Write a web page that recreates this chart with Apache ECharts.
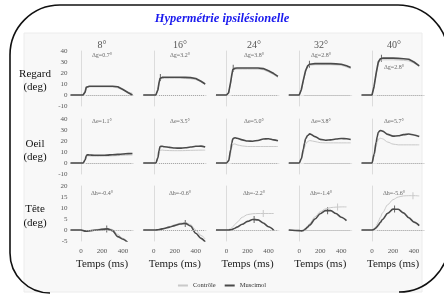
<!DOCTYPE html>
<html>
<head>
<meta charset="utf-8">
<script src="https://cdn.jsdelivr.net/npm/echarts@6/dist/echarts.min.js"></script>
<style>
  html, body { margin: 0; padding: 0; background: #fff; }
  #chart { width: 444px; height: 303px; }
</style>
</head>
<body>
<div id="chart"></div>
<script>
// ---- données ----
const temps = [-100, 0, 20, 40, 50, 60, 80, 100, 150, 200, 250, 300, 350, 400, 450, 490];
const cibles = ["8°", "16°", "24°", "32°", "40°"];
const lignes = [["Regard", "(deg)"], ["Oeil", "(deg)"], ["Tête", "(deg)"]];
const deltaRegard = ["Δg=0.7°", "Δg=3.2°", "Δg=3.8°", "Δg=2.8°", "Δg=2.8°"];
const deltaOeil = ["Δe=1.1°", "Δe=3.5°", "Δe=5.0°", "Δe=3.8°", "Δe=5.7°"];
const deltaTete = ["Δh=-0.4°", "Δh=-0.6°", "Δh=-2.2°", "Δh=-1.4°", "Δh=-5.6°"];
const ticksTemps = [0, 200, 400];

const regardMuscimol = [
  [0, 0, 0, 3, 7, 8, 8, 8, 8, 8, 8, 8, 7.5, 5, 2, 0],
  [0, 0, 0, 5, 11, 15, 16, 16.2, 16.2, 16.2, 16.2, 16, 15.8, 15, 12.5, 10],
  [0, 0, 2, 12, 18, 23, 24.3, 24.5, 24.5, 24.5, 24.5, 24.5, 24, 22, 19.5, 17],
  [0, 0, 5, 14, 18, 22, 26.5, 28, 28.5, 28.5, 28.5, 28.5, 28.3, 28, 26.5, 25],
  [0, 0, 8, 20, 25, 30, 33, 33.5, 33.5, 33.5, 33.3, 33, 32.5, 30, 26.5, null]
];
const regardControle = [
  [0, 0, 0, 2.5, 6.5, 7.3, 7.4, 7.4, 7.4, 7.4, 7.4, 7.3, 6.5, 4.5, 2.5, 1.5],
  [0, 0, 0, 4.5, 10, 14, 15, 15.2, 15.2, 15.2, 15.2, 15, 14.8, 14, 12, 9.5],
  [0, 0, 1.5, 11, 17, 22, 23.3, 23.5, 23.5, 23.5, 23.5, 23.5, 23, 21, 18.5, 16],
  [0, 0, 4, 13, 17, 21, 25.5, 27, 27.5, 27.5, 27.5, 27.5, 27.3, 27, 25.5, 24],
  [0, 0, 7, 19, 24, 28.5, 31.5, 32, 32, 32, 31.8, 31.5, 31, 29, 26, null]
];
const oeilMuscimol = [
  [0, 0, 0, 3, 6.5, 7.5, 7.3, 7.2, 7, 7, 7.2, 7.5, 7.8, 8.2, 8.5, 8.6],
  [0, 0, 0, 5, 11, 15, 15.2, 14.8, 14.2, 13.6, 13.5, 13.8, 14.5, 15.2, 15.3, 14.5],
  [0, 0, 2, 12, 18, 22, 23, 22.5, 21, 20, 19.8, 20.5, 21.8, 22, 21, 20.2],
  [0, 0, 4, 13, 18, 22, 25, 26.5, 24, 21.5, 20.7, 21, 21.8, 22.3, 22, 21.4],
  [0, 0, 8, 19, 24, 28, 29.6, 29, 26, 24.4, 24.8, 25.8, 26.3, 25.5, 24, null]
];
const oeilControle = [
  [0, 0, 0, 2.5, 5.5, 6.5, 6.4, 6.2, 6.1, 6.2, 6.3, 6.5, 6.7, 7, 7.2, 7.3],
  [0, 0, 0, 4, 9, 11.5, 11.8, 11.5, 11.3, 11.2, 11.2, 11.3, 11.5, 11.6, 11.7, 11.7],
  [0, 0, 1.5, 9, 14, 17, 17.4, 16.5, 15.5, 15, 15, 15, 15, 15, 15, 15],
  [0, 0, 3, 10, 14, 17, 19.5, 20.4, 19.5, 18.5, 18.3, 18.3, 18.3, 18.3, 18.3, 18.3],
  [0, 0, 6, 15, 19, 21.5, 22.5, 22, 19, 17.2, 16.5, 16.5, 16.5, 16.5, 16.5, null]
];
const teteMuscimol = [
  [0, 0, -0.3, -0.5, -0.5, -0.5, -0.4, -0.3, 0, 0.3, 0.5, -0.3, -3, -4.2, -6, null],
  [0, 0, 0, 0.1, 0.2, 0.3, 0.5, 0.7, 1.3, 2, 2.7, 3, 1.8, -1.5, -3.8, -5.4],
  [0, 0, 0, 0.1, 0.2, 0.4, 0.8, 1.3, 2.6, 3.9, 4.8, 4.6, 3.2, 1.5, -0.1, null],
  [0, -0.3, -0.4, -0.2, 0.1, 0.5, 1.3, 2.3, 5, 7.4, 8.8, 8.8, 7.5, 5.8, 4.3, null],
  [0, 0, 0.3, 1, 1.6, 2.2, 3.5, 4.8, 7.6, 9.5, 9.4, 7.8, 5.6, 3.6, 2, null]
];
const teteControle = [
  [0, 0, -0.2, -0.3, -0.3, -0.3, -0.2, -0.1, 0.2, 0.6, 0.8, 0.2, -2, -3.8, -5.5, null],
  [0, 0, 0, 0.1, 0.2, 0.4, 0.6, 0.9, 1.6, 2.4, 3.1, 3.4, 2.5, 0, -2.5, -4],
  [0, 0, 0.2, 0.6, 1, 1.5, 2.5, 3.5, 5.8, 7, 7.4, 7.5, 7.5, 7.5, 7.5, null],
  [0, -0.2, -0.2, 0, 0.3, 0.8, 1.8, 3, 6, 8.3, 9.6, 10.2, 10.4, 10.5, 10.5, null],
  [0, 0, 0.5, 1.8, 2.8, 3.8, 5.8, 7.8, 11.5, 13.8, 15, 15.5, 15.6, 15.6, 15.5, null]
];
// repères verticaux : [ligne, colonne, temps, valeur]
const marquesMuscimol = [
  [0, 1, 63, 16], [0, 2, 64, 24.3], [0, 3, 97, 28], [0, 4, 90, 33.5],
  [2, 0, 245, 0.5], [2, 1, 300, 3], [2, 2, 263, 4.8], [2, 3, 270, 8.8], [2, 4, 215, 9.6]
];
const marquesControle = [[2, 2, 350, 7.5], [2, 3, 365, 10.4], [2, 4, 390, 15.6]];

// ---- mise en page ----
const serif = "'Liberation Serif', 'DejaVu Serif', serif";
const gridLeft0 = 70.5, colStep = 72.75, gridW = 63, gridH = 55;
const rowTops = [51, 119, 186];
const rowRange = [[-10, 40, 10], [-10, 40, 10], [-5, 20, 5]];
const labelX = [102, 180, 254, 321, 394];
const donnees = [
  [regardControle, regardMuscimol],
  [oeilControle, oeilMuscimol],
  [teteControle, teteMuscimol]
];

const grids = [], xAxes = [], yAxes = [], series = [];
const pts = (arr) => temps.map((t, i) => [t, arr[i]]);

for (let r = 0; r < 3; r++) {
  for (let c = 0; c < 5; c++) {
    const idx = grids.length;
    grids.push({ left: gridLeft0 + colStep * c, top: rowTops[r], width: gridW, height: gridH });
    xAxes.push({
      gridIndex: idx, type: "value", min: -100, max: 500, interval: 100,
      axisLine: { show: true, lineStyle: { color: "#e2e2e2", type: "dotted" } },
      axisTick: { show: false }, splitLine: { show: false },
      axisLabel: {
        show: r === 2, margin: 7, fontSize: 7, color: "#555", fontFamily: serif,
        formatter: (v) => (ticksTemps.includes(v) ? String(v) : "")
      },
      name: r === 2 ? "Temps (ms)" : "", nameLocation: "middle", nameGap: 18,
      nameTextStyle: { fontSize: 11, color: "#222", fontFamily: serif }
    });
    yAxes.push({
      gridIndex: idx, type: "value", min: rowRange[r][0], max: rowRange[r][1], interval: rowRange[r][2],
      axisLine: { show: true, lineStyle: { color: "#dcdcdc" } },
      axisTick: { show: false }, splitLine: { show: false },
      axisLabel: { show: c === 0, margin: 3, fontSize: 7, color: "#555", fontFamily: serif }
    });
    const smooth = r === 0 ? false : 0.3;
    series.push({
      name: "Contrôle", type: "line", xAxisIndex: idx, yAxisIndex: idx,
      data: pts(donnees[r][0][c]), showSymbol: false, smooth: smooth, smoothMonotone: "x",
      lineStyle: { color: "#c9c9c9", width: 1 }, itemStyle: { color: "#c9c9c9" },
      animation: false, silent: true
    });
    series.push({
      name: "Muscimol", type: "line", xAxisIndex: idx, yAxisIndex: idx,
      data: pts(donnees[r][1][c]), showSymbol: false, smooth: smooth, smoothMonotone: "x",
      lineStyle: { color: "#4a4a4a", width: 1.6 }, itemStyle: { color: "#4a4a4a" },
      animation: false, silent: true,
      markLine: {
        silent: true, symbol: ["none", "none"], label: { show: false },
        lineStyle: { color: "#a8a8a8", type: "dotted", width: 1 },
        data: [[{ coord: [50, 0] }, { coord: [490, 0] }]]
      }
    });
  }
}

function marques(liste, couleur) {
  liste.forEach(([r, c, t, v]) => {
    const idx = r * 5 + c;
    series.push({
      name: "repère", type: "scatter", xAxisIndex: idx, yAxisIndex: idx,
      data: [[t, v]], symbol: "rect", symbolSize: [1, 7],
      itemStyle: { color: couleur }, silent: true, animation: false
    });
  });
}
marques(marquesControle, "#bdbdbd");
marques(marquesMuscimol, "#444");

const txt = (x, y, text, size, color, extra) => ({
  type: "text", x: x, y: y, silent: true,
  style: Object.assign({
    text: text, fill: color, font: size + "px " + serif,
    align: "center", textAlign: "center", verticalAlign: "middle", textVerticalAlign: "middle"
  }, extra || {})
});

const cadre = { stroke: "#111", lineWidth: 1.6, fill: "none" };
const courbe = (x1, y1, c1x, c1y, c2x, c2y, x2, y2) => ({
  type: "bezierCurve", z: 10, silent: true,
  shape: { x1: x1, y1: y1, cpx1: c1x, cpy1: c1y, cpx2: c2x, cpy2: c2y, x2: x2, y2: y2 },
  style: cadre
});
const segment = (x1, y1, x2, y2) => ({
  type: "line", z: 10, silent: true, shape: { x1: x1, y1: y1, x2: x2, y2: y2 }, style: cadre
});

const graphics = [
  { type: "rect", z: -10, silent: true, shape: { x: 24, y: 33, width: 398, height: 259 },
    style: { fill: "#f8f8f8", stroke: "#ececec", lineWidth: 1 } },
  courbe(50, 293, 27.9, 293, 10, 275.1, 10, 253),
  segment(10, 253, 10, 55),
  courbe(10, 55, 10, 27.4, 32.4, 5, 60, 5),
  segment(60, 5, 398, 5),
  courbe(398, 5, 425.6, 5, 448, 27.4, 448, 55),
  courbe(449, 242, 449, 269.6, 426.6, 292, 399, 292),
  txt(222, 19, "Hypermétrie ipsilésionelle", 12.5, "#1a1aee",
      { font: "italic bold 12.5px " + serif })
];
const rowLabelY = [[74, 87], [144, 157], [209, 223]];
for (let r = 0; r < 3; r++) {
  graphics.push(txt(35, rowLabelY[r][0], lignes[r][0], 11, "#111"));
  graphics.push(txt(35, rowLabelY[r][1], lignes[r][1], 11, "#111"));
}
for (let c = 0; c < 5; c++) {
  graphics.push(txt(labelX[c], 45, cibles[c], 10, "#555"));
  graphics.push(txt(labelX[c], c === 4 ? 67 : 55, deltaRegard[c], 6, "#666"));
  graphics.push(txt(labelX[c], 121, deltaOeil[c], 6, "#666"));
  graphics.push(txt(labelX[c], 193, deltaTete[c], 6, "#666"));
}

const chart = echarts.init(document.getElementById("chart"));
chart.setOption({
  backgroundColor: "#fff",
  animation: false,
  grid: grids,
  xAxis: xAxes,
  yAxis: yAxes,
  legend: {
    data: [{ name: "Contrôle", icon: "rect" }, { name: "Muscimol", icon: "rect" }],
    left: "center", top: 277, itemWidth: 10, itemHeight: 2, itemGap: 9,
    textStyle: { fontSize: 6.5, color: "#333", fontFamily: serif },
    selectedMode: false
  },
  series: series,
  graphic: graphics
});
</script>
</body>
</html>
